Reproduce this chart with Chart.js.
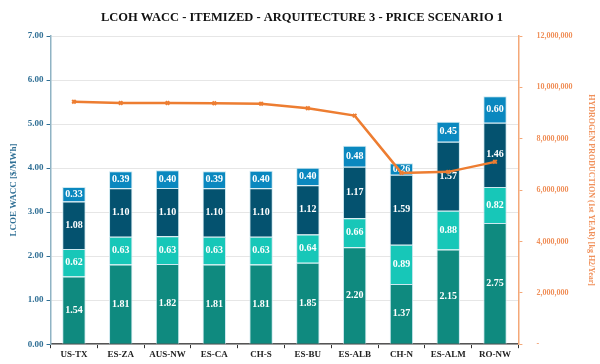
<!DOCTYPE html>
<html>
<head>
<meta charset="utf-8">
<script src="https://cdn.jsdelivr.net/npm/chart.js@4"></script>
<style>
  html, body { margin: 0; padding: 0; background: #fff; }
  #wrap { width: 600px; height: 364px; }
</style>
</head>
<body>
<div id="wrap"><canvas id="lcohChart" width="600" height="364"></canvas></div>
<script>
// Chart data
const sites = ['US-TX', 'ES-ZA', 'AUS-NW', 'ES-CA', 'CH-S', 'ES-BU', 'ES-ALB', 'CH-N', 'ES-ALM', 'RO-NW'];
const part1 = [1.54, 1.81, 1.82, 1.81, 1.81, 1.85, 2.20, 1.37, 2.15, 2.75];
const part2 = [0.62, 0.63, 0.63, 0.63, 0.63, 0.64, 0.66, 0.89, 0.88, 0.82];
const part3 = [1.08, 1.10, 1.10, 1.10, 1.10, 1.12, 1.17, 1.59, 1.57, 1.46];
const part4 = [0.33, 0.39, 0.40, 0.39, 0.40, 0.40, 0.48, 0.26, 0.45, 0.60];
const h2Production = [9440000, 9390000, 9390000, 9380000, 9360000, 9190000, 8900000, 6670000, 6710000, 7100000];
const leftTicks = [0, 1, 2, 3, 4, 5, 6, 7];

const FONT = "'Liberation Serif', 'DejaVu Serif', serif";
const BLUE_AXIS = '#2f6f95';
const ORANGE = '#ed7d31';

// draws value labels in the middle of each bar segment
const segLabels = {
    id: 'segLabels',
    afterDatasetDraw(chart, args) {
        const ds = chart.data.datasets[args.index];
        if (ds.type !== 'bar') return;
        const ctx = chart.ctx;
        ctx.save();
        ctx.font = "bold 10px " + FONT;
        ctx.fillStyle = '#ffffff';
        ctx.textAlign = 'center';
        ctx.textBaseline = 'middle';
        args.meta.data.forEach((bar, i) => {
            const y = (bar.y + bar.base) / 2;
            ctx.fillText(ds.data[i].toFixed(2), bar.x, y);
        });
        ctx.restore();
    }
};

function barSet(label, data, color) {
    return {
        type: 'bar',
        label: label,
        data: data,
        backgroundColor: color,
        borderColor: 'rgba(200,230,238,0.9)',
        borderWidth: 1,
        yAxisID: 'y',
        stack: 'lcoh',
        barPercentage: 0.5,
        categoryPercentage: 1.0,
        order: 2
    };
}

new Chart(document.getElementById('lcohChart').getContext('2d'), {
    data: {
        labels: sites,
        datasets: [
            barSet('Part 1', part1, '#0f8a7f'),
            barSet('Part 2', part2, '#17c7b8'),
            barSet('Part 3', part3, '#04526f'),
            barSet('Part 4', part4, '#0a88bf'),
            {
                type: 'line',
                label: 'Hydrogen production',
                data: h2Production,
                borderColor: ORANGE,
                backgroundColor: ORANGE,
                borderWidth: 2.5,
                pointStyle: 'crossRot',
                pointRadius: 2.5,
                pointBorderWidth: 2,
                yAxisID: 'y2',
                order: 1
            }
        ]
    },
    options: {
        responsive: false,
        animation: false,
        layout: { padding: { left: 4, right: 0, top: 2, bottom: 3 } },
        plugins: {
            legend: { display: false },
            tooltip: { enabled: false },
            title: {
                display: true,
                text: 'LCOH WACC - ITEMIZED - ARQUITECTURE 3 - PRICE SCENARIO 1',
                color: '#111',
                font: { family: FONT, size: 12.5, weight: 'bold' },
                padding: { top: 8, bottom: 11 }
            }
        },
        scales: {
            x: {
                grid: { display: true, drawOnChartArea: false, offset: true, color: '#333', tickLength: 4 },
                border: { color: '#555', width: 1.5 },
                ticks: { color: '#222', font: { family: FONT, size: 9, weight: 'bold' }, padding: 1 }
            },
            y: {
                position: 'left',
                stacked: true,
                min: 0,
                max: 7,
                afterBuildTicks: axis => { axis.ticks = leftTicks.map(v => ({ value: v })); },
                grid: { color: '#e6e6e6', tickLength: 4, tickColor: BLUE_AXIS },
                border: { color: '#8fb3c4', width: 1.5 },
                ticks: {
                    color: BLUE_AXIS,
                    font: { family: FONT, size: 9, weight: 'bold' },
                    callback: v => v.toFixed(2)
                },
                title: {
                    display: true,
                    text: 'LCOE WACC [$/MWh]',
                    color: BLUE_AXIS,
                    font: { family: FONT, size: 9, weight: 'bold' },
                    padding: { bottom: 6 }
                }
            },
            y2: {
                position: 'right',
                min: 0,
                max: 12000000,
                grid: { drawOnChartArea: false, tickLength: 4, tickColor: '#f4a878' },
                border: { color: '#f4a878', width: 1.5 },
                ticks: {
                    stepSize: 2000000,
                    padding: 14,
                    color: '#f0905a',
                    font: { family: FONT, size: 8, weight: 'bold' },
                    callback: v => v === 0 ? '-' : v.toLocaleString('en-US')
                },
                title: {
                    display: true,
                    text: 'HYDROGEN PRODUCTION (1st YEAR) [kg H2/Year]',
                    color: '#f0905a',
                    font: { family: FONT, size: 8, weight: 'bold' },
                    padding: { top: 4, bottom: 0 }
                }
            }
        }
    },
    plugins: [segLabels]
});
</script>
</body>
</html>
